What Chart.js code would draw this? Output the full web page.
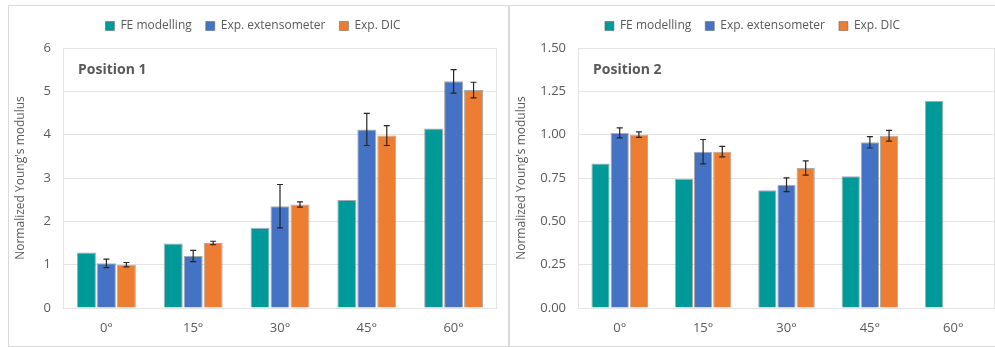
<!DOCTYPE html>
<html>
<head>
<meta charset="utf-8">
<script src="https://cdn.jsdelivr.net/npm/chart.js@4.4.0/dist/chart.umd.min.js"></script>
<style>
  body { margin: 0; background: #fff; width: 995px; height: 347px; overflow: hidden; position: relative; }
  .panel { position: absolute; top: 5px; height: 340px; border: 1px solid #d9d9d9; }
  #panel1 { left: 8px; width: 499px; }
  #panel2 { left: 509px; width: 486px; }
  canvas { display: block; }
</style>
</head>
<body>
<div class="panel" id="panel1"><canvas id="chart1" width="499" height="340"></canvas></div>
<div class="panel" id="panel2"><canvas id="chart2" width="485" height="340"></canvas></div>
<script>
const angles = ["0°", "15°", "30°", "45°", "60°"];
const seriesNames = ["FE modelling", "Exp. extensometer", "Exp. DIC"];

// Position 1
const pos1Fe = [1.28, 1.49, 1.85, 2.49, 4.14];
const pos1Ext = [1.03, 1.20, 2.35, 4.12, 5.23];
const pos1ExtErr = [0.10, 0.13, 0.50, 0.37, 0.27];
const pos1Dic = [1.00, 1.50, 2.39, 3.98, 5.03];
const pos1DicErr = [0.05, 0.04, 0.06, 0.23, 0.18];

// Position 2
const pos2Fe = [0.833, 0.746, 0.679, 0.760, 1.196];
const pos2Ext = [1.010, 0.902, 0.711, 0.956, null];
const pos2ExtErr = [0.029, 0.070, 0.040, 0.033, null];
const pos2Dic = [1.000, 0.902, 0.808, 0.994, null];
const pos2DicErr = [0.016, 0.030, 0.041, 0.031, null];

const TEAL = "#009999";
const BLUE = "#4472C4";
const ORANGE = "#ED7D31";
const TEXT = "#595959";
const GRID = "#e3e3e3";

Chart.defaults.font.family = "'Open Sans', sans-serif";
Chart.defaults.color = TEXT;

// error bars, drawn through the y scale
const errorBars = {
  id: "errorBars",
  afterDatasetsDraw(chart) {
    const ctx = chart.ctx;
    const y = chart.scales.y;
    ctx.save();
    ctx.strokeStyle = "#262626";
    ctx.lineWidth = 1.2;
    chart.data.datasets.forEach((ds, i) => {
      if (!ds.errors) return;
      chart.getDatasetMeta(i).data.forEach((bar, j) => {
        const v = ds.data[j], e = ds.errors[j];
        if (v == null || e == null) return;
        const top = y.getPixelForValue(v + e);
        const bot = y.getPixelForValue(v - e);
        ctx.beginPath();
        ctx.moveTo(bar.x, top); ctx.lineTo(bar.x, bot);
        ctx.moveTo(bar.x - 3, top); ctx.lineTo(bar.x + 3, top);
        ctx.moveTo(bar.x - 3, bot); ctx.lineTo(bar.x + 3, bot);
        ctx.stroke();
      });
    });
    ctx.restore();
  }
};

// plot frame + "Position n" label
const plotLabel = {
  id: "plotLabel",
  beforeDatasetsDraw(chart, args, opts) {
    const a = chart.chartArea, ctx = chart.ctx;
    ctx.save();
    ctx.strokeStyle = GRID;
    ctx.lineWidth = 1;
    ctx.strokeRect(a.left + 0.5, a.top + 0.5, a.width - 1, a.height);
    ctx.fillStyle = TEXT;
    ctx.font = "bold 14px 'Open Sans', sans-serif";
    ctx.textBaseline = "middle";
    ctx.fillText(opts.text, a.left + 15, a.top + 22);
    ctx.restore();
  }
};

const fixLegend = {
  id: "fixLegend",
  beforeInit(chart) {
    const fit = chart.legend.fit;
    chart.legend.fit = function () {
      fit.bind(chart.legend)();
      this.height = 42;
    };
  }
};

function bars(label, data, color, errors) {
  return {
    label: label,
    data: data,
    errors: errors,
    backgroundColor: color,
    borderColor: "rgba(100,100,100,0.55)",
    borderWidth: 1,
    categoryPercentage: 0.69,
    barPercentage: 0.95
  };
}

function makeChart(id, title, fe, ext, extErr, dic, dicErr, yMax, step, decimals, plotLeft, padRight) {
  return new Chart(document.getElementById(id), {
    type: "bar",
    data: {
      labels: angles,
      datasets: [
        bars(seriesNames[0], fe, TEAL, null),
        bars(seriesNames[1], ext, BLUE, extErr),
        bars(seriesNames[2], dic, ORANGE, dicErr)
      ]
    },
    options: {
      responsive: false,
      animation: false,
      devicePixelRatio: 1,
      layout: { padding: { left: 0, right: padRight, top: 0, bottom: 0 } },
      plugins: {
        legend: {
          position: "top",
          labels: { boxWidth: 9, boxHeight: 9, padding: 14, color: TEXT, font: { size: 12 } }
        },
        tooltip: { enabled: false },
        plotLabel: { text: title }
      },
      scales: {
        x: {
          grid: { display: false, drawTicks: false },
          border: { display: false },
          ticks: { color: TEXT, font: { size: 13 }, padding: 12 },
          afterFit: (s) => { s.height = 38; }
        },
        y: {
          min: 0,
          max: yMax,
          grid: { color: GRID, drawTicks: false },
          border: { display: false },
          ticks: {
            stepSize: step,
            color: TEXT,
            font: { size: 13 },
            padding: 12,
            callback: (v) => Number(v).toFixed(decimals)
          },
          title: { display: true, text: "Normalized Young's modulus", color: TEXT, font: { size: 12 } },
          afterFit: (s) => { s.width = plotLeft; }
        }
      }
    },
    plugins: [errorBars, plotLabel, fixLegend]
  });
}

makeChart("chart1", "Position 1", pos1Fe, pos1Ext, pos1ExtErr, pos1Dic, pos1DicErr, 6, 1, 0, 54, 11);
makeChart("chart2", "Position 2", pos2Fe, pos2Ext, pos2ExtErr, pos2Dic, pos2DicErr, 1.5, 0.25, 2, 68, 0);
</script>
</body>
</html>
